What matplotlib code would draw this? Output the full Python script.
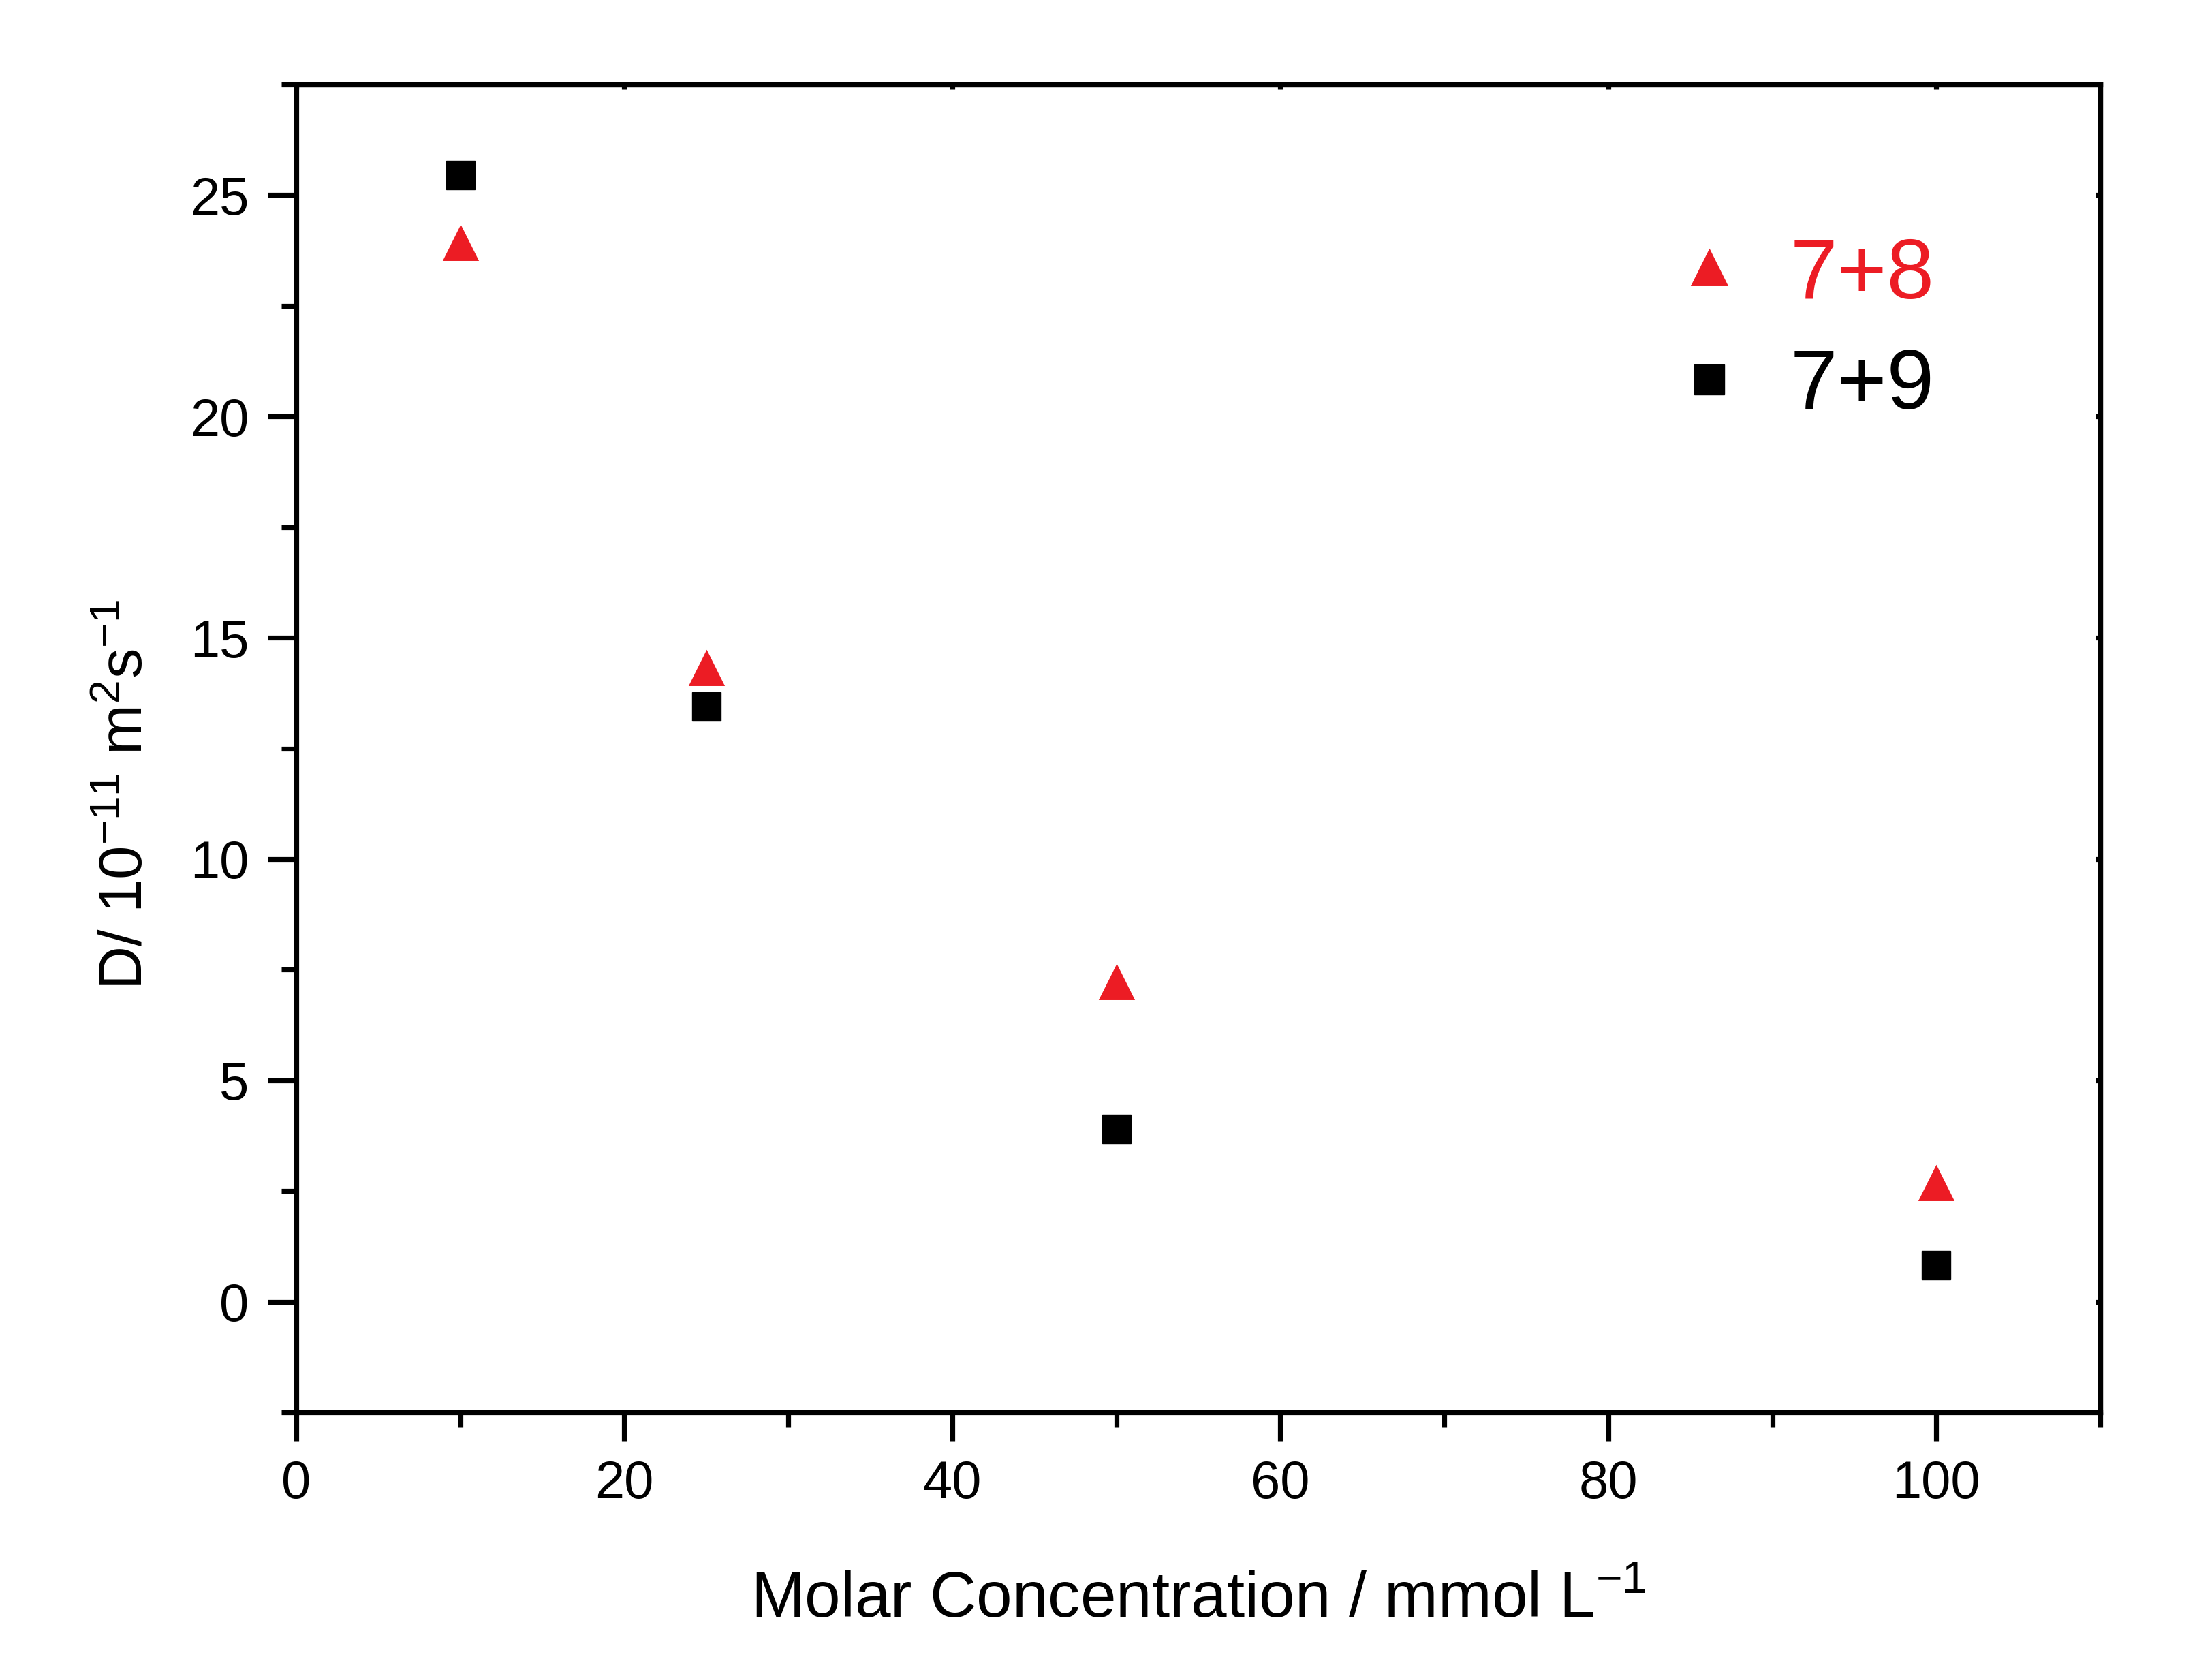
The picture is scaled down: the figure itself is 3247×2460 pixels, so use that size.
import numpy as np
import matplotlib
matplotlib.use("Agg")
import matplotlib.pyplot as plt
from matplotlib.ticker import MultipleLocator

plt.rcParams['font.family'] = ['Liberation Sans', 'DejaVu Sans']
plt.rcParams['mathtext.fontset'] = 'custom'
plt.rcParams['mathtext.rm'] = 'Liberation Sans'
plt.rcParams['mathtext.it'] = 'Liberation Sans:italic'
plt.rcParams['axes.unicode_minus'] = False

# data
conc = [10, 25, 50, 100]
d_78 = [23.9, 14.3, 7.2, 2.65]
d_79 = [25.45, 13.45, 3.9, 0.83]
labels = ["7+8", "7+9"]

red = '#ec1c24'
lw = 2.6

fig = plt.figure(figsize=(16.24, 12.3), dpi=200)
ax = fig.add_axes([0.1339, 0.1573, 0.8153, 0.7923])

ax.plot(conc, d_78, linestyle='none', marker='^', ms=15, color=red,
        mec=red, mew=2.5, label=labels[0])
ax.plot(conc, d_79, linestyle='none', marker='s', ms=15, color='black',
        mec='black', mew=0.5, label=labels[1])

ax.set_xlim(0, 110)
ax.set_ylim(-2.5, 27.5)
ax.xaxis.set_major_locator(MultipleLocator(20))
ax.xaxis.set_minor_locator(MultipleLocator(10))
ax.yaxis.set_major_locator(MultipleLocator(5))
ax.yaxis.set_minor_locator(MultipleLocator(2.5))

for s in ax.spines.values():
	s.set_linewidth(lw)
ax.tick_params(which='both', direction='out', width=lw, labelsize=28)
ax.tick_params(which='major', length=15, pad=10)
ax.tick_params(which='minor', length=8)

# small inward ticks on top and right
top = ax.secondary_xaxis('top')
top.xaxis.set_major_locator(MultipleLocator(20))
top.tick_params(direction='in', length=2.5, width=lw, labeltop=False)
top.spines['top'].set_linewidth(lw)
right = ax.secondary_yaxis('right')
right.yaxis.set_major_locator(MultipleLocator(5))
right.tick_params(direction='in', length=2.5, width=lw, labelright=False)
right.spines['right'].set_linewidth(lw)

ax.set_xlabel(r"Molar Concentration / mmol L$^{\mathregular{-1}}$", fontsize=34, labelpad=32)
ax.set_ylabel(r"D/ 10$^{\mathregular{-11}}$ m$^{\mathregular{2}}$s$^{\mathregular{-1}}$", fontsize=32)
ax.yaxis.set_label_coords(-0.078, 0.465)

leg = ax.legend(loc='upper left', bbox_to_anchor=(0.7595, 0.885), frameon=False,
                fontsize=45, handlelength=1.0, handletextpad=0.45,
                labelspacing=0.37, borderpad=0, borderaxespad=0, markerscale=1.05)
leg.get_texts()[0].set_color(red)
leg.get_texts()[1].set_color('black')

fig.savefig("out.png", dpi=200, facecolor='white')
